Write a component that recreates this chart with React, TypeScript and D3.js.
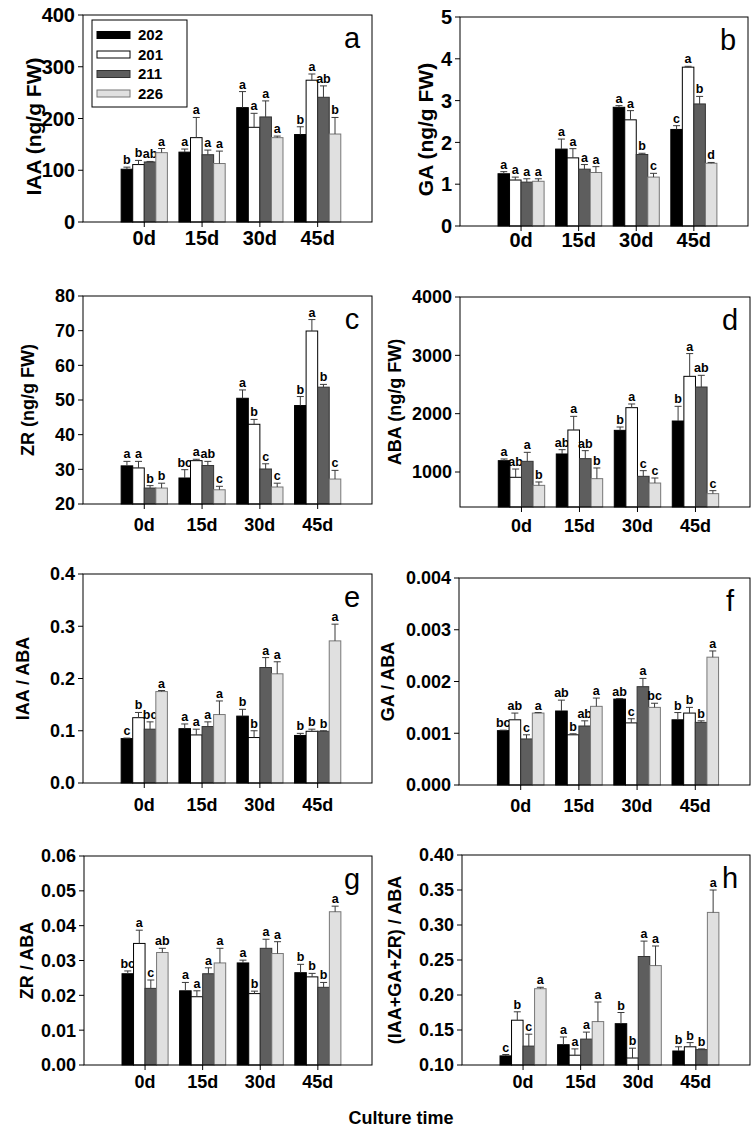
import { useEffect } from 'react';
import * as d3 from 'd3';

// culture time points and cultivars
const GROUPS = ['0d', '15d', '30d', '45d'];
const CULTIVARS = ['202', '201', '211', '226'];

// means, standard errors and significance letters, rows = time point, cols = cultivar
const iaaMean = [[102, 111, 116, 134], [135, 163, 130, 113], [221, 183, 203, 163], [169, 274, 241, 170]];
const iaaSe = [[4, 8, 1, 8], [6, 39, 9, 24], [31, 27, 31, 3], [15, 12, 22, 32]];
const iaaSig = [['b', 'b', 'ab', 'a'], ['a', 'a', 'a', 'a'], ['a', 'a', 'a', 'a'], ['b', 'a', 'ab', 'b']];

const gaMean = [[1.25, 1.1, 1.05, 1.07], [1.84, 1.63, 1.36, 1.28], [2.84, 2.54, 1.71, 1.17], [2.31, 3.8, 2.92, 1.5]];
const gaSe = [[0.05, 0.07, 0.08, 0.06], [0.24, 0.22, 0.11, 0.14], [0.04, 0.22, 0.03, 0.09], [0.09, 0.02, 0.18, 0.02]];
const gaSig = [['a', 'a', 'a', 'a'], ['a', 'a', 'a', 'a'], ['a', 'a', 'b', 'c'], ['c', 'a', 'b', 'd']];

const zrMean = [[31.0, 30.4, 24.6, 24.6], [27.5, 32.5, 31.1, 24.1], [50.5, 43.0, 30.1, 24.9], [48.4, 69.9, 53.7, 27.2]];
const zrSe = [[1.3, 1.9, 0.7, 1.4], [2.4, 0.4, 1.2, 1.0], [2.4, 1.4, 1.5, 1.1], [2.6, 3.3, 0.8, 2.5]];
const zrSig = [['a', 'a', 'b', 'b'], ['bc', 'a', 'ab', 'c'], ['a', 'b', 'c', 'c'], ['b', 'a', 'b', 'c']];

const abaMean = [[1194, 909, 1183, 771], [1309, 1720, 1229, 886], [1714, 2103, 926, 811], [1874, 2640, 2457, 629]];
const abaSe = [[29, 142, 154, 58], [74, 234, 137, 183], [57, 63, 97, 86], [252, 390, 200, 51]];
const abaSig = [['a', 'ab', 'a', 'b'], ['ab', 'a', 'ab', 'b'], ['b', 'a', 'c', 'c'], ['b', 'a', 'ab', 'c']];

const iaaAbaMean = [[0.085, 0.125, 0.103, 0.175], [0.104, 0.092, 0.108, 0.131], [0.128, 0.087, 0.221, 0.209], [0.091, 0.099, 0.099, 0.272]];
const iaaAbaSe = [[0.001, 0.01, 0.014, 0.002], [0.009, 0.011, 0.009, 0.026], [0.013, 0.013, 0.019, 0.023], [0.004, 0.004, 0.001, 0.032]];
const iaaAbaSig = [['c', 'b', 'bc', 'a'], ['a', 'a', 'a', 'a'], ['b', 'b', 'a', 'a'], ['b', 'b', 'b', 'a']];

const gaAbaMean = [[0.00105, 0.00126, 0.00089, 0.00139], [0.00143, 0.00097, 0.00114, 0.00152], [0.00166, 0.0012, 0.0019, 0.0015], [0.00126, 0.00139, 0.00121, 0.00247]];
const gaAbaSe = [[0.00001, 0.00013, 0.00008, 0.00001], [0.00021, 0.00002, 0.0001, 0.00016], [0.00001, 0.00008, 0.00016, 0.00008], [0.00014, 0.00011, 0.00003, 0.00012]];
const gaAbaSig = [['bc', 'ab', 'c', 'a'], ['ab', 'b', 'ab', 'a'], ['ab', 'c', 'a', 'bc'], ['b', 'b', 'b', 'a']];

const zrAbaMean = [[0.0262, 0.0349, 0.022, 0.0323], [0.0213, 0.0196, 0.0262, 0.0293], [0.0293, 0.0205, 0.0335, 0.032], [0.0265, 0.0253, 0.0223, 0.044]];
const zrAbaSe = [[0.0008, 0.0038, 0.0024, 0.0012], [0.0024, 0.0017, 0.0017, 0.0042], [0.0008, 0.0007, 0.0026, 0.0034], [0.0024, 0.001, 0.0014, 0.0016]];
const zrAbaSig = [['bc', 'a', 'c', 'ab'], ['a', 'a', 'a', 'a'], ['a', 'b', 'a', 'a'], ['b', 'b', 'b', 'a']];

const sumAbaMean = [[0.113, 0.164, 0.127, 0.209], [0.129, 0.114, 0.137, 0.162], [0.159, 0.11, 0.255, 0.242], [0.12, 0.126, 0.122, 0.318]];
const sumAbaSe = [[0.002, 0.012, 0.017, 0.002], [0.011, 0.009, 0.01, 0.028], [0.016, 0.014, 0.022, 0.028], [0.006, 0.006, 0.001, 0.032]];
const sumAbaSig = [['c', 'b', 'c', 'a'], ['a', 'a', 'a', 'a'], ['b', 'b', 'a', 'a'], ['b', 'b', 'b', 'a']];

const FILLS = ['#000000', '#ffffff', '#5e5e5e', '#e0e0e0'];
const STROKES = ['#000000', '#000000', '#333333', '#777777'];
const FONT = '"Liberation Sans", Arial, sans-serif';

interface PanelDef {
  tag: string;
  title: string;
  mean: number[][];
  se: number[][];
  sig: string[][];
  domain: [number, number];
  ticks: number[];
  fmt: string;
  x0: number; x1: number; y0: number; y1: number;
  titleDx: number;
  labDy: number;
  big?: boolean;
  legend?: boolean;
}

const panels: PanelDef[] = [
  { tag: 'a', title: 'IAA (ng/g FW)', mean: iaaMean, se: iaaSe, sig: iaaSig, domain: [0, 400], ticks: d3.range(0, 401, 100), fmt: 'd',
    x0: 83, x1: 372, y0: 15, y1: 222, titleDx: 50, labDy: 23, big: true, legend: true },
  { tag: 'b', title: 'GA (ng/g FW)', mean: gaMean, se: gaSe, sig: gaSig, domain: [0, 5], ticks: d3.range(0, 6), fmt: 'd',
    x0: 460, x1: 748, y0: 17, y1: 226, titleDx: 35, labDy: 21, big: true },
  { tag: 'c', title: 'ZR (ng/g FW)', mean: zrMean, se: zrSe, sig: zrSig, domain: [20, 80], ticks: d3.range(20, 81, 10), fmt: 'd',
    x0: 83, x1: 372, y0: 296, y1: 504, titleDx: 55, labDy: 27 },
  { tag: 'd', title: 'ABA (ng/g FW)', mean: abaMean, se: abaSe, sig: abaSig, domain: [400, 4000], ticks: [1000, 2000, 3000, 4000], fmt: 'd',
    x0: 460, x1: 750, y0: 297, y1: 507, titleDx: 65, labDy: 25 },
  { tag: 'e', title: 'IAA / ABA', mean: iaaAbaMean, se: iaaAbaSe, sig: iaaAbaSig, domain: [0, 0.4], ticks: [0, 0.1, 0.2, 0.3, 0.4], fmt: '.1f',
    x0: 83, x1: 372, y0: 574, y1: 783, titleDx: 60, labDy: 28 },
  { tag: 'f', title: 'GA / ABA', mean: gaAbaMean, se: gaAbaSe, sig: gaAbaSig, domain: [0, 0.004], ticks: [0, 0.001, 0.002, 0.003, 0.004], fmt: '.3f',
    x0: 459, x1: 750, y0: 578, y1: 785, titleDx: 71, labDy: 27 },
  { tag: 'g', title: 'ZR / ABA', mean: zrAbaMean, se: zrAbaSe, sig: zrAbaSig, domain: [0, 0.06], ticks: [0, 0.01, 0.02, 0.03, 0.04, 0.05, 0.06], fmt: '.2f',
    x0: 84, x1: 372, y0: 856, y1: 1065, titleDx: 57, labDy: 23 },
  { tag: 'h', title: '(IAA+GA+ZR) / ABA', mean: sumAbaMean, se: sumAbaSe, sig: sumAbaSig, domain: [0.1, 0.4], ticks: [0.1, 0.15, 0.2, 0.25, 0.3, 0.35, 0.4], fmt: '.2f',
    x0: 462, x1: 750, y0: 855, y1: 1065, titleDx: 67, labDy: 23 },
];

function Panel({ p }: { p: PanelDef }) {
  const x = d3.scaleBand<string>().domain(GROUPS).range([p.x0, p.x1]).paddingInner(0.2).paddingOuter(0.6).align(0.55);
  const xs = d3.scaleBand<string>().domain(CULTIVARS).range([0, x.bandwidth()]);
  const y = d3.scaleLinear().domain(p.domain).range([p.y1, p.y0]);
  const fmt = d3.format(p.fmt);
  const tickSize = p.big ? 20 : 18;
  const titleSize = p.big ? 21 : 18;
  const titleY = (p.y0 + p.y1) / 2 + (p.big ? 8 : 0);
  const tx = p.x0 - p.titleDx;

  return (
    <g>
      {GROUPS.map((g, gi) => (
        <g key={g} transform={`translate(${x(g)},0)`}>
          {CULTIVARS.map((c, ci) => {
            const v = p.mean[gi][ci];
            const top = v + p.se[gi][ci];
            const bx = xs(c)!;
            const cx = bx + xs.bandwidth() / 2;
            return (
              <g key={c}>
                <rect x={bx} y={y(v)} width={xs.bandwidth()} height={y(p.domain[0]) - y(v)}
                  fill={FILLS[ci]} stroke={STROKES[ci]} strokeWidth={1} />
                <line x1={cx} x2={cx} y1={y(v)} y2={y(top)} stroke="#3a3a3a" strokeWidth={1} />
                <line x1={cx - 3.5} x2={cx + 3.5} y1={y(top)} y2={y(top)} stroke="#3a3a3a" strokeWidth={1} />
                <text x={cx} y={y(top) - 3} textAnchor="middle" fontSize={12.5} fontWeight="bold" fill="#000">
                  {p.sig[gi][ci]}
                </text>
              </g>
            );
          })}
        </g>
      ))}

      <rect x={p.x0} y={p.y0} width={p.x1 - p.x0} height={p.y1 - p.y0} fill="none" stroke="#000" strokeWidth={1} />

      {p.ticks.map(t => (
        <g key={t}>
          <line x1={p.x0 - 5} x2={p.x0} y1={y(t)} y2={y(t)} stroke="#000" />
          <text x={p.x0 - 8} y={y(t)} dy="0.36em" textAnchor="end" fontSize={tickSize} fontWeight="bold">
            {fmt(t)}
          </text>
        </g>
      ))}

      {GROUPS.map(g => {
        const cx = x(g)! + x.bandwidth() / 2;
        return (
          <g key={g}>
            <line x1={cx} x2={cx} y1={p.y1} y2={p.y1 + 5} stroke="#000" />
            <text x={cx} y={p.y1 + p.labDy} textAnchor="middle" fontSize={tickSize} fontWeight="bold">{g}</text>
          </g>
        );
      })}

      <text transform={`translate(${tx},${titleY}) rotate(-90)`} dy="0.36em" textAnchor="middle"
        fontSize={titleSize} fontWeight="bold">{p.title}</text>

      <text x={p.x1 - 20} y={p.y0 + 33} textAnchor="middle" fontSize={29}>{p.tag}</text>

      {p.legend && (
        <g>
          <rect x={p.x0 + 9} y={p.y0 + 5} width={95} height={87} fill="#fff" stroke="#000" />
          {CULTIVARS.map((c, i) => {
            const ly = p.y0 + 20 + i * 19.5;
            return (
              <g key={c}>
                <rect x={p.x0 + 14} y={ly - 3.5} width={33} height={7} fill={FILLS[i]} stroke={STROKES[i]} />
                <text x={p.x0 + 55} y={ly} dy="0.36em" fontSize={15} fontWeight="bold">{c}</text>
              </g>
            );
          })}
        </g>
      )}
    </g>
  );
}

export default function App() {
  useEffect(() => {
    document.body.style.margin = '0';
  }, []);

  return (
    <svg width={756} height={1131} style={{ display: 'block', background: '#fff' }} fontFamily={FONT}>
      <rect width={756} height={1131} fill="#fff" />
      {panels.map(p => <Panel key={p.tag} p={p} />)}
      <text x={401} y={1124} textAnchor="middle" fontSize={18} fontWeight="bold">Culture time</text>
    </svg>
  );
}
